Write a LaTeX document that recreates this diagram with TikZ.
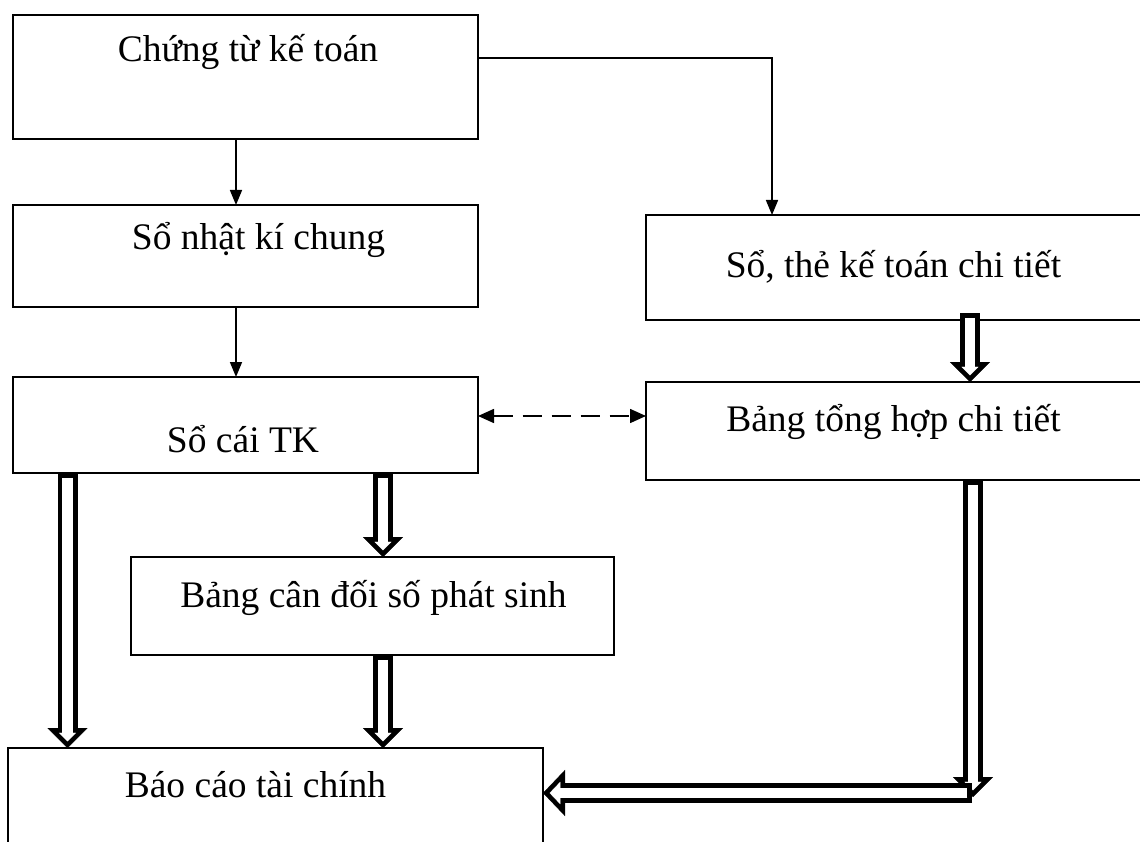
\documentclass[tikz,border=0pt]{standalone}
\usepackage{fontspec}
\setmainfont{Liberation Serif}
\usetikzlibrary{arrows.meta,calc}

\tikzset{
  box/.style={draw, line width=1.6pt, inner sep=0pt, outer sep=0pt, anchor=north west},
  lbl/.style={anchor=base, inner sep=0pt, font=\fontsize{37.5}{45}\selectfont},
  thinarrow/.style={line width=1.6pt, -{Triangle[length=15pt,width=12pt]}},
  dasharrow/.style={line width=1.6pt, dash pattern=on 19pt off 10pt,
    {Triangle[length=16pt,width=14pt]}-{Triangle[length=16pt,width=14pt]}},
  % hollow block arrow: thick black stroke, then a white inner stroke on top
  hollowv/.style={line width=20pt, -{Triangle[length=20pt,width=40pt,line width=0.3pt]},
    postaction={draw=white, line width=10.5pt, shorten <=4.75pt, shorten >=6.7pt,
      -{Triangle[length=8.55pt,width=17.1pt,line width=0.3pt]}}},
  hollowh/.style={line width=20pt, -{Triangle[length=22pt,width=46pt,line width=0.3pt]},
    postaction={draw=white, line width=10.5pt, shorten <=4.75pt, shorten >=6.6pt,
      -{Triangle[length=10.7pt,width=22.3pt,line width=0.3pt]}}},
}

\begin{document}
\begin{tikzpicture}[x=1pt, y=-1pt]
\useasboundingbox (0,0) rectangle (1140,842);
\clip (0,0) rectangle (1140,842);
\fill[white] (0,0) rectangle (1140,842);

% boxes
\node[box, minimum width=465pt, minimum height=124pt] (b1) at (13,15) {};
\node[box, minimum width=465pt, minimum height=102pt] (b2) at (13,205) {};
\node[box, minimum width=465pt, minimum height=96pt]  (b3) at (13,377) {};
\node[box, minimum width=504pt, minimum height=105pt] (b4) at (646,215) {};
\node[box, minimum width=504pt, minimum height=98pt]  (b5) at (646,382) {};
\node[box, minimum width=483pt, minimum height=98pt]  (b6) at (131,557) {};
\node[box, minimum width=535pt, minimum height=122pt] (b7) at (8,748) {};

% labels
\node[lbl] (t1) at (248,62)    {Chứng từ kế toán};
\node[lbl] (t2) at (258.5,250) {Sổ nhật kí chung};
\node[lbl] (t3) at (243,452)   {Sổ cái TK};
\node[lbl] (t4) at (893.5,277) {Sổ, thẻ kế toán chi tiết};
\node[lbl] (t5) at (893.5,431) {Bảng tổng hợp chi tiết};
\node[lbl] (t6) at (373.5,607) {Bảng cân đối số phát sinh};
\node[lbl] (t7) at (255.5,797) {Báo cáo tài chính};

% guide coordinates
\coordinate (xa) at (236,0);
\coordinate (xb) at (772,58);
\coordinate (yd) at (0,416);
\coordinate (h1) at (970,0);
\coordinate (h2) at (67.5,0);
\coordinate (h3) at (383,0);
\coordinate (h4) at (973,0);
\coordinate (bend) at (973,797);
\coordinate (hstart) at (972,793);

% thin connectors
\draw[thinarrow] (b1.south -| xa) -- (b2.north -| xa);
\draw[thinarrow] (b2.south -| xa) -- (b3.north -| xa);
\draw[thinarrow] (b1.east |- xb) -| (b4.north -| xb);
\draw[dasharrow] (b3.east |- yd) -- (b5.west |- yd);

% hollow connectors
\draw[hollowv] ($(b4.south -| h1)+(0,-7)$) -- (b5.north -| h1);
\draw[hollowv] (b3.south -| h2) -- (b7.north -| h2);
\draw[hollowv] (b3.south -| h3) -- (b6.north -| h3);
\draw[hollowv] (b6.south -| h3) -- (b7.north -| h3);
\draw[hollowv] (b5.south -| h4) -- (bend);
\draw[hollowh] (hstart) -- (b7.east |- hstart);
\end{tikzpicture}
\end{document}
